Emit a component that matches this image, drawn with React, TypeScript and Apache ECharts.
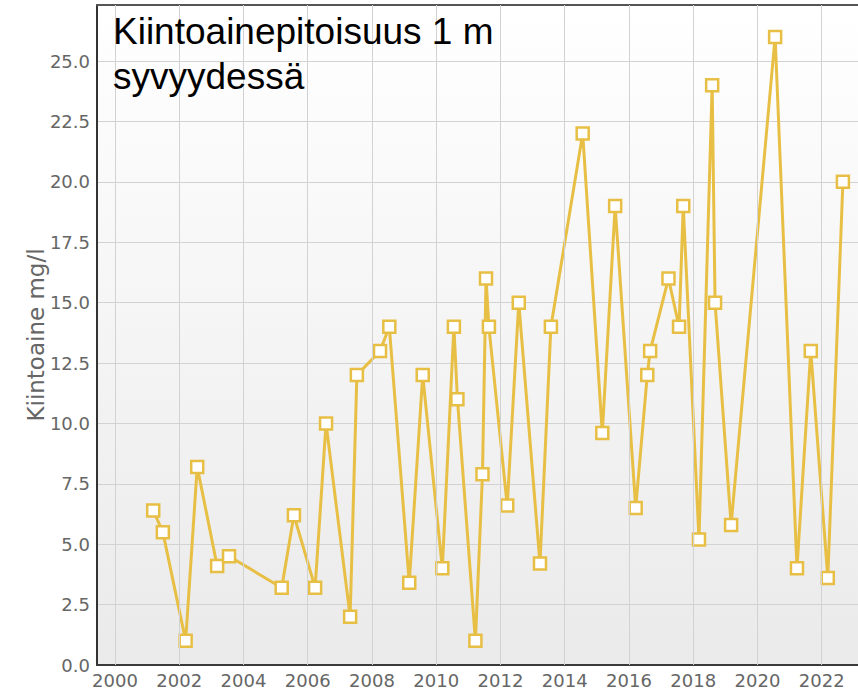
import React, { useEffect, useRef } from "react";
import * as echarts from "echarts";

const years = [2001.19, 2001.49, 2002.2, 2002.56, 2003.18, 2003.55, 2005.19, 2005.57, 2006.23, 2006.57, 2007.32, 2007.53, 2008.25, 2008.54, 2009.16, 2009.58, 2010.19, 2010.55, 2010.66, 2011.22, 2011.44, 2011.55, 2011.64, 2012.21, 2012.57, 2013.23, 2013.57, 2014.56, 2015.17, 2015.57, 2016.21, 2016.57, 2016.66, 2017.23, 2017.56, 2017.69, 2018.18, 2018.59, 2018.68, 2019.18, 2020.55, 2021.23, 2021.66, 2022.19, 2022.66];
const values = [6.4, 5.5, 1.0, 8.2, 4.1, 4.5, 3.2, 6.2, 3.2, 10, 2.0, 12, 13, 14, 3.4, 12, 4.0, 14, 11, 1.0, 7.9, 16, 14, 6.6, 15, 4.2, 14, 22, 9.6, 19, 6.5, 12, 13, 16, 14, 19, 5.2, 24, 15, 5.8, 26, 4.0, 13, 3.6, 20];
const xTicks = [2000, 2002, 2004, 2006, 2008, 2010, 2012, 2014, 2016, 2018, 2020, 2022];
const titleText = "Kiintoainepitoisuus 1 m\nsyvyydessä";
const yName = "Kiintoaine mg/l";

const X_MIN = 1999.44;
const X_MAX = 2023.13;
const Y_MAX = 27.32;

export default function App() {
  const ref = useRef<HTMLDivElement>(null);
  useEffect(() => {
    if (!ref.current) return;
    const chart = echarts.init(ref.current, null, { renderer: "svg" });
    const gold = "#e8bf45";
    const points = years.map((y, i) => [y, values[i]]);
    chart.setOption({
      animation: false,
      title: {
        text: titleText,
        left: 113,
        top: 9,
        padding: 0,
        textStyle: {
          fontFamily: "Liberation Sans, Arial, sans-serif",
          fontSize: 37,
          fontWeight: "normal",
          color: "#000",
          lineHeight: 45,
        },
      },
      grid: {
        left: 97,
        top: 5,
        right: 0,
        bottom: 26,
        show: true,
        borderWidth: 0,
        backgroundColor: {
          type: "linear",
          x: 0, y: 0, x2: 0, y2: 1,
          colorStops: [
            { offset: 0, color: "#ffffff" },
            { offset: 1, color: "#eaeaea" },
          ],
        },
      },
      xAxis: [
        {
          type: "value",
          min: X_MIN,
          max: X_MAX,
          axisLine: { show: true, onZero: false, lineStyle: { color: "#3a3a3a", width: 2 } },
          axisTick: { show: false },
          splitLine: { show: false },
          axisLabel: {
            customValues: xTicks,
            color: "#666",
            fontFamily: "DejaVu Sans, Verdana, sans-serif",
            fontSize: 18,
            margin: 6,
            formatter: (v: number) => String(Math.round(v)),
          },
        },
        {
          type: "value",
          position: "top",
          min: X_MIN,
          max: X_MAX,
          axisLine: { show: true, onZero: false, lineStyle: { color: "#555", width: 2 } },
          axisTick: { show: false },
          axisLabel: { show: false },
          splitLine: { show: false },
        },
      ],
      yAxis: {
        type: "value",
        min: 0,
        max: Y_MAX,
        interval: 2.5,
        name: yName,
        nameLocation: "middle",
        nameGap: 50,
        nameMoveOverlap: false,
        nameTextStyle: {
          color: "#666",
          fontFamily: "DejaVu Sans, Verdana, sans-serif",
          fontSize: 23,
        },
        axisLine: { show: true, lineStyle: { color: "#333", width: 2 } },
        axisTick: { show: false },
        splitLine: { show: true, lineStyle: { color: "#d2d2d2", width: 1 } },
        axisLabel: {
          color: "#666",
          fontFamily: "DejaVu Sans, Verdana, sans-serif",
          fontSize: 18,
          margin: 7,
          showMaxLabel: false,
          formatter: (v: number) => v.toFixed(1),
        },
      },
      series: [
        {
          type: "line",
          z: 1,
          silent: true,
          symbol: "none",
          data: points,
          lineStyle: { opacity: 0 },
          markLine: {
            silent: true,
            symbol: ["none", "none"],
            label: { show: false },
            lineStyle: { color: "#d2d2d2", width: 1, type: "solid" },
            data: xTicks.map((t) => ({ xAxis: t })),
          },
        },
        {
          type: "line",
          z: 3,
          data: points,
          symbol: "rect",
          symbolSize: 12,
          lineStyle: { color: gold, width: 3 },
          itemStyle: { color: "#ffffff", borderColor: gold, borderWidth: 2.5 },
        },
      ],
    });
    return () => chart.dispose();
  }, []);
  return (
    <div
      ref={ref}
      style={{ position: "absolute", left: 0, top: 0, width: 858, height: 691 }}
    />
  );
}
